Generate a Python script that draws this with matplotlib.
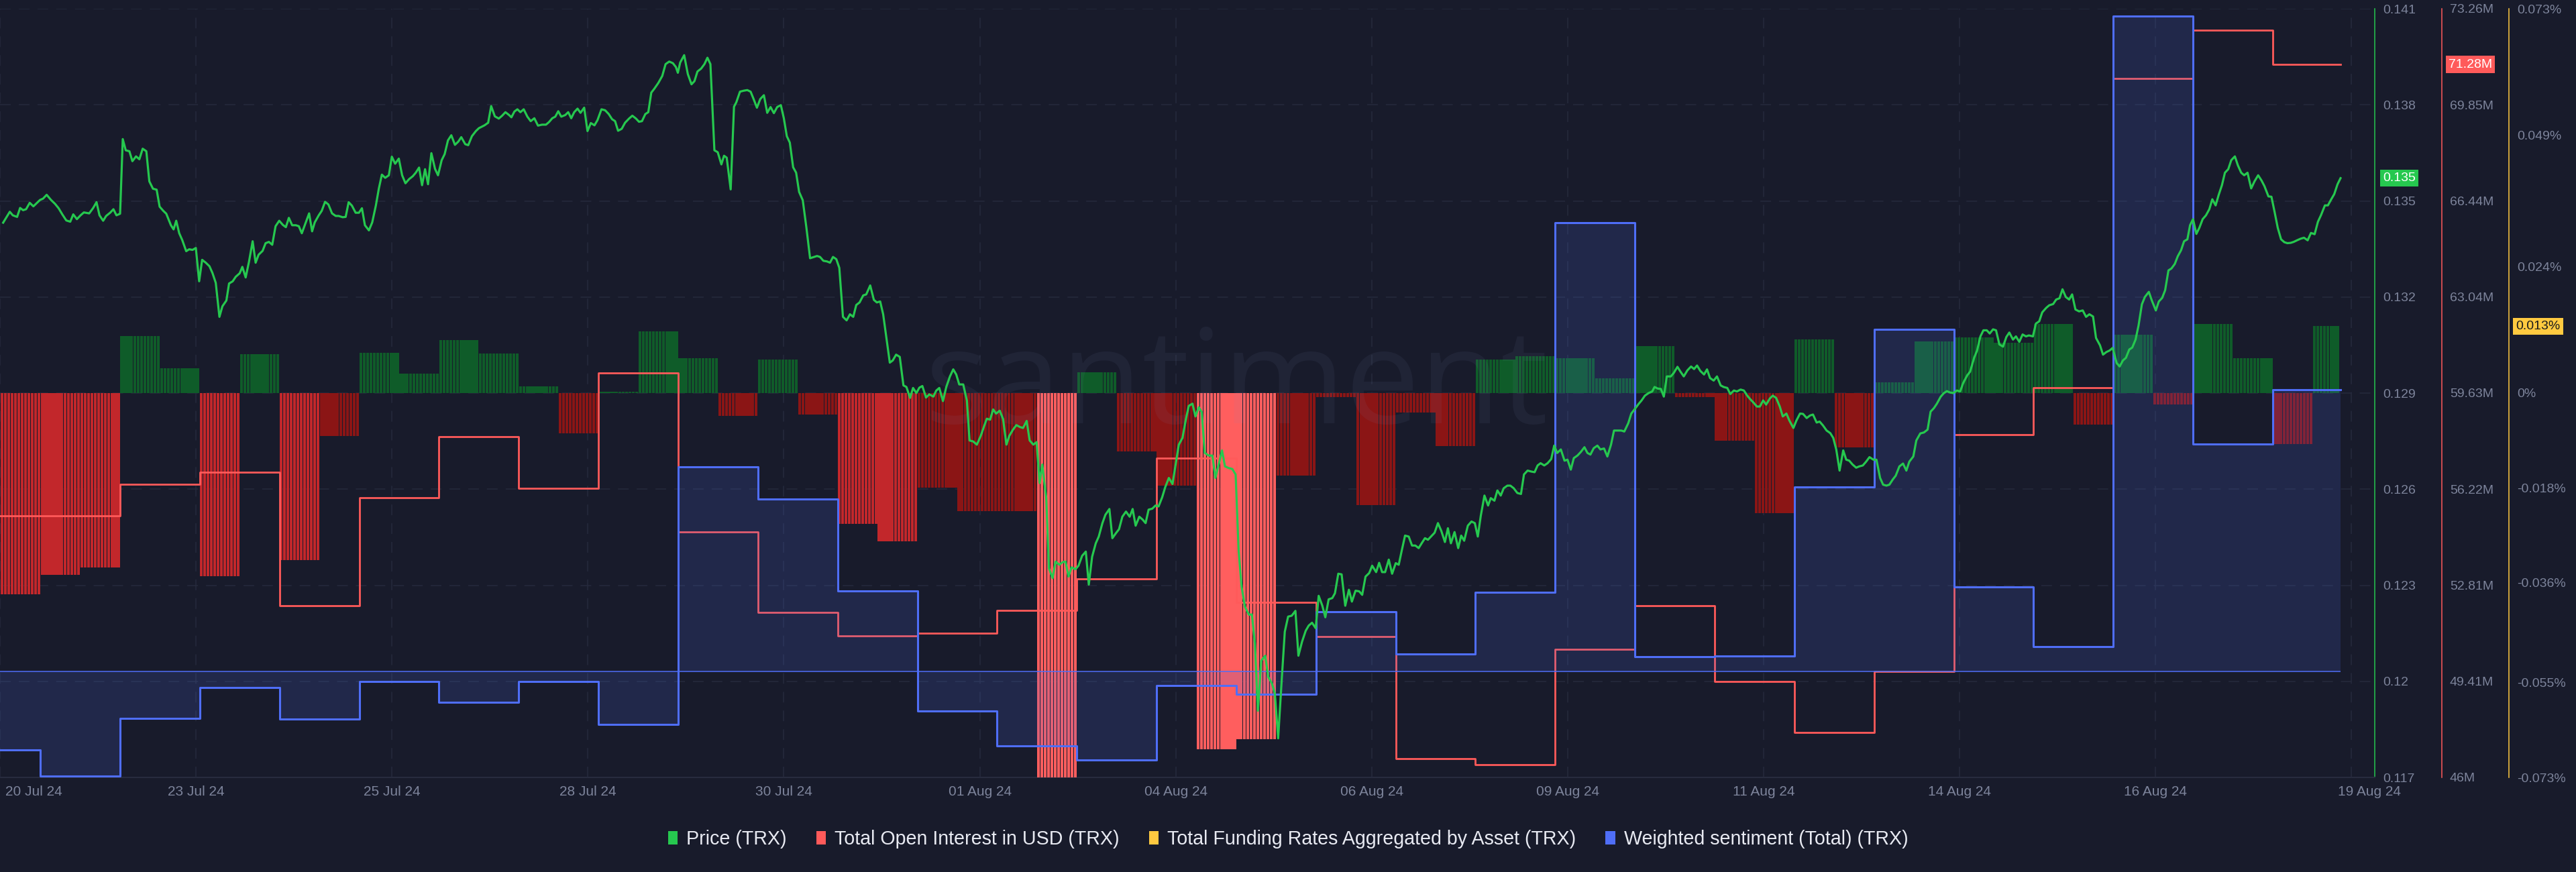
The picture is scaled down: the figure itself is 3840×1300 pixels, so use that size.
import matplotlib
matplotlib.use("Agg")
import matplotlib.pyplot as plt
import matplotlib.transforms as mtransforms
from matplotlib.patches import Patch
import numpy as np

plt.rcParams['font.family'] = ['Liberation Sans', 'DejaVu Sans']
plt.rcParams['lines.scale_dashes'] = False

# ---- data (x axis = hours from the first daily boundary) ----
# price, hourly-ish samples: (hour, price)
price_points = [
    (-11.2, .13432), (-9.2, .13466), (-8.3, .13455), (-7.0, .13450), (-6.1, .13478), (-5.2, .13471),
    (-4.3, .13474), (-3.2, .13494), (-2.1, .13483), (-1.0, .13494), (-0.1, .13503), (0.8, .13507),
    (1.9, .13519), (3.2, .13503), (4.4, .13491), (5.5, .13477), (6.6, .13458), (7.8, .13439),
    (9.0, .13435), (9.9, .13458), (11.0, .13443), (12.1, .13455), (13.1, .13464), (14.7, .13461),
    (15.9, .13478), (16.9, .13496), (17.8, .13455), (18.9, .13438), (19.8, .13453), (21.0, .13463),
    (22.0, .13474), (22.9, .13455), (24.0, .13460), (24.8, .13693), (25.7, .13658), (26.8, .13655),
    (27.7, .13624), (28.8, .13639), (29.8, .13630), (30.8, .13663), (31.9, .13655), (32.8, .13561),
    (33.9, .13538), (35.0, .13535), (35.9, .13482), (37.0, .13469), (37.9, .13460), (39.3, .13424),
    (40.1, .13411), (40.9, .13438), (41.8, .13399), (42.7, .13378), (43.9, .13343), (44.8, .13349),
    (45.8, .13347), (46.8, .13353), (47.8, .13249), (48.7, .13316), (49.8, .13307), (50.9, .13296),
    (51.8, .13275), (52.8, .13244), (53.9, .13138), (54.8, .13171), (56.0, .13189), (56.8, .13242),
    (57.9, .13249), (58.8, .13263), (60.0, .13274), (60.8, .13294), (61.8, .13261), (62.8, .13310),
    (63.9, .13374), (64.8, .13307), (65.7, .13332), (66.9, .13344), (67.8, .13368), (68.8, .13372),
    (69.8, .13363), (70.8, .13421), (71.9, .13438), (73.0, .13425), (73.9, .13418), (74.8, .13447),
    (75.8, .13424), (76.9, .13424), (77.8, .13421), (78.7, .13399), (79.8, .13430), (80.9, .13461),
    (81.8, .13405), (82.6, .13433), (83.8, .13455), (84.7, .13469), (85.7, .13497), (86.7, .13489),
    (87.8, .13461), (88.9, .13453), (89.8, .13453), (91.0, .13449), (91.9, .13450), (92.8, .13496),
    (93.8, .13485), (94.9, .13463), (95.9, .13463), (96.8, .13477), (97.7, .13424), (98.9, .13408),
    (99.9, .13433), (101.0, .13486), (101.9, .13539), (102.8, .13582), (103.8, .13572), (104.9, .13580),
    (105.8, .13638), (106.8, .13616), (107.9, .13632), (108.9, .13580), (109.9, .13555), (111.0, .13568),
    (112.1, .13577), (113.0, .13588), (114.0, .13604), (114.9, .13549), (115.8, .13599), (116.7, .13552),
    (117.7, .13649), (118.8, .13600), (119.7, .13580), (120.8, .13627), (121.7, .13646), (122.7, .13689),
    (123.7, .13705), (124.8, .13675), (125.8, .13685), (126.7, .13699), (127.9, .13677), (128.8, .13674),
    (129.9, .13702), (131.1, .13718), (132.0, .13727),
    (133.7, .13736), (134.8, .13744), (135.7, .13796), (136.8, .13764), (138.0, .13757), (139.0, .13766),
    (140.0, .13777), (141.1, .13768), (141.8, .13761), (142.7, .13779), (143.6, .13786), (144.5, .13777),
    (145.5, .13786), (146.6, .13763), (147.6, .13749), (148.7, .13758), (149.8, .13735), (151.0, .13738),
    (152.2, .13738), (153.1, .13746), (154.1, .13758), (155.0, .13763), (155.9, .13780), (156.8, .13763),
    (158.0, .13768), (158.9, .13777), (159.8, .13758), (160.7, .13777), (161.7, .13788), (162.6, .13775),
    (163.7, .13791), (164.7, .13718), (165.7, .13743), (166.8, .13736), (167.7, .13752), (168.9, .13786),
    (170.0, .13783), (171.1, .13771), (172.1, .13755), (173.0, .13749), (173.9, .13719), (175.0, .13725),
    (176.0, .13744), (177.2, .13757), (178.2, .13766), (179.3, .13757), (180.2, .13747), (181.1, .13749),
    (182.1, .13771), (183.0, .13777), (183.9, .13838), (184.8, .13850), (186.0, .13868), (187.2, .13890),
    (188.2, .13927), (189.3, .13935), (190.4, .13930), (191.3, .13918), (191.9, .13900), (192.6, .13932),
    (193.8, .13955), (194.9, .13896), (196.0, .13864), (196.9, .13874), (197.8, .13904), (198.9, .13913),
    (199.9, .13927), (200.8, .13947), (201.7, .13927), (202.9, .13658), (203.9, .13652), (205.0, .13614),
    (205.8, .13641), (206.6, .13635), (207.8, .13536), (208.8, .13794), (209.5, .13808), (210.6, .13841),
    (211.7, .13844), (212.8, .13846), (213.8, .13841), (214.7, .13818), (215.7, .13791), (216.7, .13818),
    (217.8, .13830), (218.8, .13775), (219.8, .13793), (220.8, .13774), (221.8, .13793), (222.9, .13799),
    (223.8, .13758), (224.7, .13702), (225.6, .13682), (226.6, .13605), (227.5, .13588), (228.4, .13528),
    (229.5, .13502), (230.6, .13416), (231.7, .13321), (232.9, .13325), (233.8, .13328), (234.7, .13325),
    (235.7, .13313), (236.8, .13311), (237.7, .13307), (238.6, .13325), (239.6, .13318), (240.5, .13291),
    (241.6, .13138), (242.7, .13127), (243.7, .13146), (244.7, .13138), (245.6, .13175), (246.6, .13183),
    (247.7, .13205), (248.6, .13208), (249.8, .13236), (250.9, .13191), (251.8, .13183), (252.8, .13186),
    (253.7, .13146), (254.7, .13070), (255.7, .12995), (256.6, .13002), (257.6, .13020), (258.7, .13013),
    (259.8, .12924), (260.7, .12919), (261.8, .12885), (262.7, .12916), (263.7, .12900), (264.6, .12917),
    (265.5, .12922), (266.6, .12886), (267.6, .12896), (268.8, .12889), (269.7, .12908), (270.6, .12916),
    (271.7, .12875), (272.7, .12919),
    (273.8, .12952), (274.8, .12974), (275.7, .12958), (276.6, .12927), (277.8, .12927), (278.9, .12877),
    (279.7, .12752), (280.8, .12749), (281.9, .12739), (283.1, .12767), (284.0, .12794), (284.9, .12820),
    (285.9, .12817), (286.8, .12849), (287.7, .12836), (288.8, .12845), (289.8, .12819), (290.8, .12739),
    (291.7, .12767), (292.8, .12786), (293.8, .12800), (294.9, .12794), (295.8, .12791), (296.9, .12813),
    (297.8, .12752), (298.9, .12739), (299.9, .12747), (300.8, .12619), (301.6, .12677), (302.8, .12572),
    (303.6, .12353), (304.7, .12322), (305.6, .12374), (306.7, .12364), (307.7, .12372), (308.6, .12374),
    (309.5, .12327), (310.4, .12356), (311.6, .12350), (312.5, .12361), (313.6, .12392), (314.7, .12405),
    (315.6, .12302), (316.6, .12389), (317.7, .12431), (318.6, .12452), (319.7, .12494), (320.6, .12520),
    (321.8, .12538), (322.7, .12447), (323.8, .12463), (324.7, .12475), (325.7, .12514), (326.8, .12530),
    (327.9, .12514), (328.8, .12538), (329.7, .12486), (330.8, .12514), (331.8, .12505), (332.7, .12494),
    (333.6, .12536), (334.7, .12539), (335.7, .12549), (336.6, .12546), (337.7, .12575), (338.6, .12606),
    (339.7, .12635), (340.8, .12616), (341.8, .12681), (342.7, .12739), (343.8, .12760), (344.8, .12817),
    (345.7, .12860), (346.8, .12867), (347.7, .12827), (348.7, .12856), (349.6, .12841), (350.5, .12713),
    (351.7, .12705), (352.8, .12705), (353.7, .12635), (354.8, .12681), (355.7, .12721), (356.6, .12671),
    (357.7, .12666), (358.8, .12663), (359.8, .12646), (360.7, .12408), (361.6, .12295), (362.6, .12233),
    (363.8, .12208), (364.7, .12209), (365.6, .12119), (366.5, .11908), (367.5, .12064), (368.7, .12080),
    (369.6, .12014), (370.7, .11994), (371.6, .11963), (372.6, .11822), (373.7, .12009), (374.6, .12155),
    (375.6, .12202), (376.7, .12205), (377.8, .12220), (378.7, .12080), (379.8, .12124), (380.9, .12158),
    (381.8, .12174), (382.8, .12183), (383.9, .12166), (384.8, .12267), (385.9, .12236), (386.8, .12200),
    (387.8, .12256), (388.9, .12260), (389.7, .12275), (390.7, .12336), (391.7, .12334), (392.8, .12236),
    (393.9, .12286), (394.8, .12249), (395.9, .12283), (397.0, .12281), (397.9, .12270), (398.9, .12327),
    (400.0, .12338), (400.9, .12361), (402.1, .12341), (403.0, .12370), (403.9, .12341), (404.8, .12341),
    (405.9, .12380), (406.9, .12336), (408.0, .12369), (408.9, .12364), (409.8, .12408), (410.8, .12455),
    (411.9, .12452), (412.9, .12424), (413.9, .12424),
    (414.9, .12416), (415.8, .12431), (416.8, .12447), (417.7, .12442), (418.6, .12452), (419.7, .12464),
    (420.7, .12494), (421.7, .12470), (422.8, .12435), (423.7, .12478), (424.6, .12431), (425.7, .12466),
    (426.8, .12416), (427.7, .12455), (428.6, .12439), (429.7, .12486), (430.8, .12499), (431.8, .12494),
    (432.7, .12452), (433.6, .12517), (434.7, .12580), (435.8, .12549), (436.6, .12572), (437.7, .12564),
    (438.6, .12596), (439.6, .12580), (440.5, .12603), (441.6, .12611), (442.5, .12611), (443.5, .12603),
    (444.6, .12588), (445.7, .12585), (446.6, .12646), (447.7, .12658), (448.8, .12655), (449.8, .12653),
    (450.7, .12674), (451.6, .12681), (452.7, .12674), (453.7, .12681), (454.8, .12694), (455.7, .12736),
    (456.6, .12713), (457.7, .12724), (458.8, .12689), (459.7, .12692), (460.7, .12661), (461.6, .12697),
    (462.7, .12705), (463.7, .12716), (464.8, .12731), (465.7, .12713), (466.6, .12708), (467.6, .12728),
    (468.7, .12736), (469.6, .12724), (470.7, .12727), (471.7, .12702), (472.8, .12739), (473.7, .12783),
    (474.8, .12783), (475.9, .12783), (476.8, .12780), (478.0, .12806), (478.9, .12836), (480.1, .12852),
    (481.1, .12866), (482.0, .12877), (483.0, .12892), (484.1, .12900), (485.2, .12905), (485.9, .12919),
    (486.9, .12914), (487.8, .12913), (488.7, .12889), (489.6, .12952), (490.8, .12952), (491.7, .12963),
    (492.8, .12982), (493.7, .12967), (494.7, .12952), (495.8, .12971), (496.9, .12983), (497.8, .12975),
    (498.7, .12986), (499.7, .12969), (500.8, .12958), (501.7, .12974), (502.6, .12947), (503.7, .12939),
    (504.7, .12952), (505.8, .12924), (506.7, .12919), (507.8, .12916), (508.7, .12897), (509.8, .12908),
    (510.7, .12905), (511.8, .12911), (512.8, .12908), (513.8, .12892), (514.7, .12881), (515.8, .12869),
    (516.7, .12858), (517.6, .12858), (518.6, .12877), (519.5, .12864), (520.6, .12883), (521.5, .12892),
    (522.5, .12885), (523.6, .12858), (524.5, .12827), (525.6, .12836), (526.5, .12814), (527.7, .12791),
    (528.6, .12814), (529.7, .12836), (530.6, .12835), (531.7, .12822), (532.7, .12830), (533.6, .12833),
    (534.7, .12808), (535.6, .12811), (536.6, .12799), (537.7, .12783), (538.8, .12775), (539.7, .12760),
    (540.6, .12724), (541.6, .12658), (542.7, .12721), (543.6, .12692), (544.5, .12689), (545.5, .12677),
    (546.6, .12667), (547.5, .12671), (548.6, .12674), (549.6, .12686), (550.6, .12700), (551.8, .12692),
    (552.7, .12692), (553.8, .12635), (554.7, .12614), (555.7, .12611),
    (556.6, .12614), (557.6, .12630), (558.5, .12642), (559.6, .12671), (560.7, .12680), (561.7, .12658),
    (562.6, .12686), (563.8, .12702), (564.7, .12752), (565.9, .12774), (567.0, .12777), (568.1, .12786),
    (569.0, .12842), (570.0, .12853), (570.9, .12867), (572.0, .12888), (572.9, .12899), (573.9, .12906),
    (574.8, .12902), (575.8, .12900), (576.9, .12908), (577.9, .12905), (578.8, .12931), (580.0, .12955),
    (580.9, .12967), (582.1, .13010), (583.0, .13033), (584.0, .13077), (584.9, .13096), (585.9, .13096),
    (586.8, .13086), (587.8, .13099), (588.7, .13096), (589.7, .13052), (590.8, .13045), (591.8, .13075),
    (592.7, .13089), (593.8, .13067), (594.7, .13077), (595.7, .13060), (596.7, .13083), (597.7, .13077),
    (598.6, .13080), (599.8, .13077), (600.7, .13117), (601.7, .13124), (602.6, .13152), (603.8, .13166),
    (604.7, .13174), (605.9, .13178), (606.8, .13192), (607.8, .13196), (608.7, .13224), (609.7, .13200),
    (610.7, .13192), (611.6, .13208), (612.6, .13161), (613.7, .13155), (614.8, .13158), (615.8, .13138),
    (616.8, .13146), (617.9, .13139), (618.8, .13072), (620.0, .13049), (620.9, .13020), (621.9, .13028),
    (622.9, .13033), (623.8, .13041), (625.0, .12994), (625.9, .12983), (626.9, .13002), (627.8, .13010),
    (628.8, .13036), (629.7, .13042), (630.7, .13067), (631.6, .13111), (632.6, .13177), (633.5, .13200),
    (634.7, .13216), (635.6, .13189), (636.8, .13158), (637.7, .13186), (638.7, .13197), (639.6, .13221),
    (640.6, .13283), (641.5, .13289), (642.5, .13303), (643.4, .13327), (644.4, .13346), (645.3, .13374),
    (646.3, .13380), (647.1, .13424), (648.0, .13443), (649.0, .13397), (649.9, .13416), (650.9, .13443),
    (651.9, .13455), (652.9, .13474), (653.8, .13505), (654.8, .13486), (655.7, .13518), (656.7, .13549),
    (657.6, .13588), (658.6, .13599), (659.5, .13627), (660.6, .13639), (661.5, .13611), (662.5, .13588),
    (663.4, .13580), (664.4, .13588), (665.5, .13539), (666.5, .13561), (667.6, .13580), (668.6, .13564),
    (669.5, .13546), (670.7, .13514), (671.6, .13513), (672.6, .13463), (673.5, .13416), (674.5, .13380),
    (675.5, .13371), (676.4, .13368), (677.4, .13369), (678.3, .13372), (679.3, .13377), (680.4, .13382),
    (681.4, .13385), (682.5, .13377), (683.5, .13400), (684.6, .13396), (685.6, .13435), (686.5, .13455),
    (687.7, .13486), (688.6, .13486), (689.6, .13505), (690.5, .13521), (691.5, .13552), (692.4, .13571),
]

# daily series, day -1 .. 28
days = np.arange(-1, 29)
open_interest_m = [55.28, 55.28, 56.39, 56.82, 52.09, 55.92, 58.08, 56.25, 60.34, 54.71,
                   51.85, 51.02, 51.11, 51.92, 53.04, 57.32, 52.21, 51.00, 46.67, 46.45,
                   50.54, 52.09, 49.40, 47.59, 49.76, 58.16, 59.82, 70.79, 72.50, 71.28]
weighted_sentiment = [-1.17, -1.56, -0.70, -0.24, -0.71, -0.15, -0.46, -0.15, -0.79, 3.05,
                      2.57, 1.20, -0.59, -1.11, -1.32, -0.21, -0.34, 0.89, 0.26, 1.18,
                      6.69, 0.22, 0.23, 2.75, 5.10, 1.26, 0.37, 9.77, 3.39, 4.20]

# funding rate (%) per 12h block, first block starts at hour -12
funding_start = -12
funding_rates = [-0.0382, -0.0345, -0.0331, 0.0108, 0.0047, -0.0348, 0.0074, -0.0317, -0.0082, 0.0076,
                 0.0037, 0.0101, 0.0075, 0.0013, -0.0076, 0.0003, 0.0117, 0.0066, -0.0043, 0.0064,
                 -0.0041, -0.0248, -0.0282, -0.0180, -0.0224, -0.0224, -0.0740, 0.0039, -0.0111, -0.0176,
                 -0.0676, -0.0657, -0.0157, -0.0008, -0.0213, -0.0037, -0.0101, 0.0064, 0.0070, 0.0066,
                 0.0028, 0.0089, -0.0008, -0.0090, -0.0228, 0.0102, -0.0103, 0.0020, 0.0098, 0.0106,
                 0.0096, 0.0131, -0.0060, 0.0111, -0.0022, 0.0131, 0.0066, -0.0097, 0.0127]

x_tick_hours = [-12.15, 46.84, 105.83, 164.82, 223.81, 282.80, 341.79, 400.78,
                459.77, 518.76, 577.75, 636.74, 695.73]
x_tick_labels = ['20 Jul 24', '23 Jul 24', '25 Jul 24', '28 Jul 24', '30 Jul 24', '01 Aug 24',
                 '04 Aug 24', '06 Aug 24', '09 Aug 24', '11 Aug 24', '14 Aug 24', '16 Aug 24',
                 '19 Aug 24']
price_ticks = [0.141, 0.138, 0.135, 0.132, 0.129, 0.126, 0.123, 0.12, 0.117]
oi_ticks = [73.26, 69.85, 66.44, 63.04, 59.63, 56.22, 52.81, 49.41, 46.0]
oi_tick_labels = ['73.26M', '69.85M', '66.44M', '63.04M', '59.63M', '56.22M', '52.81M', '49.41M', '46M']
funding_ticks = [0.073, 0.049, 0.024, 0, -0.018, -0.036, -0.055, -0.073]
funding_tick_labels = ['0.073%', '0.049%', '0.024%', '0%', '-0.018%', '-0.036%', '-0.055%', '-0.073%']

# ---- style ----
BG = '#181b2b'
GREEN = '#26c84f'
RED = '#ff5a5a'
YELLOW = '#ffc940'
BLUE = '#4f6ef7'
GRID = '#262a3d'
TICK = '#7d849b'
DASH = (0, (11.5, 8.6))

price_points = np.array(price_points)
ph, pv = price_points[:, 0], price_points[:, 1]
end_hour = ph[-1]

fig = plt.figure(figsize=(38.4, 13), dpi=100, facecolor=BG)
ax = fig.add_axes([0, 1 - 1159 / 1300, 3540 / 3840, 1146 / 1300])
ax.set_facecolor(BG)
ax_f = ax.twinx()
ax_oi = ax.twinx()
ax_s = ax.twinx()
ax_p = ax.twinx()

ax.set_xlim(-12.15, 702.7)
ax.set_ylim(0.117, 0.141)
ax_p.set_ylim(0.117, 0.141)
ax_oi.set_ylim(46.0, 73.26)
ax_f.set_ylim(-0.073, 0.073)
ax_s.set_ylim(-1.58, 9.88)

for a in (ax, ax_f, ax_oi, ax_s, ax_p):
    for side in ('top', 'left', 'right', 'bottom'):
        a.spines[side].set_visible(False)

# main axis: price ticks on the right, grid
ax.yaxis.tick_right()
ax.set_yticks(price_ticks, labels=[f'{v:g}' for v in price_ticks])
ax.spines['right'].set_visible(True)
ax.spines['right'].set_color(GREEN)
ax.spines['right'].set_linewidth(1.1)
ax.spines['bottom'].set_visible(True)
ax.spines['bottom'].set_color('#272b3e')
ax.spines['bottom'].set_linewidth(1.5)
ax.set_xticks(x_tick_hours, labels=x_tick_labels)
ax.tick_params(axis='x', length=0, pad=9, labelsize=15, labelcolor=TICK)
ax.tick_params(axis='y', length=0, pad=8.6, labelsize=14, labelcolor=TICK)
xlabels = ax.get_xticklabels()
xlabels[0].set_ha('left')
xlabels[0].set_transform(xlabels[0].get_transform()
                         + mtransforms.ScaledTranslation(0.08, 0, fig.dpi_scale_trans))
xlabels[-1].set_transform(xlabels[-1].get_transform()
                          + mtransforms.ScaledTranslation(0.27, 0, fig.dpi_scale_trans))
ax.grid(True, color=GRID, linestyle=DASH, linewidth=1.1)
ax.set_axisbelow(True)

ax_oi.set_yticks(oi_ticks, labels=oi_tick_labels)
ax_oi.spines['right'].set_visible(True)
ax_oi.spines['right'].set_position(('axes', 1 + 100 / 3540))
ax_oi.spines['right'].set_color(RED)
ax_oi.spines['right'].set_linewidth(1.1)
ax_oi.tick_params(axis='y', length=0, pad=8.6, labelsize=14, labelcolor=TICK)

ax_f.set_yticks(funding_ticks, labels=funding_tick_labels)
ax_f.spines['right'].set_visible(True)
ax_f.spines['right'].set_position(('axes', 1 + 200 / 3540))
ax_f.spines['right'].set_color(YELLOW)
ax_f.spines['right'].set_linewidth(1.1)
ax_f.tick_params(axis='y', length=0, pad=8.6, labelsize=14, labelcolor=TICK)

ax_s.yaxis.set_visible(False)
ax_p.yaxis.set_visible(False)

# funding bars: one thin bar per hour inside each 12h block
bar_x, bar_v, bar_c = [], [], []
for k, v in enumerate(funding_rates):
    if v > 0:
        c = '#0f5c29'
    elif v > -0.0235:
        c = '#8b1515'
    elif v > -0.05:
        c = '#c2272b'
    else:
        c = '#ff5e5e'
    for j in range(12):
        h = funding_start + 12 * k + j + 0.5
        if h < end_hour:
            bar_x.append(h)
            bar_v.append(v)
            bar_c.append(c)
ax_f.bar(bar_x, bar_v, width=0.85, color=bar_c, linewidth=0, zorder=2)

# watermark
ax_f.text(0.48, 1 - 631 / 1300, 'santiment', transform=fig.transFigure, ha='center',
          va='baseline', fontsize=142, family='Open Sans', color='#8090c0', alpha=0.08, zorder=3)

# daily step series
sx = np.append(days * 24.0, end_hour)
oi_y = np.append(open_interest_m, open_interest_m[-1])
ax_oi.step(sx, oi_y, where='post', color=RED, linewidth=2.0)

s_y = np.append(weighted_sentiment, weighted_sentiment[-1])
ax_s.fill_between(sx, s_y, 0, step='post', color='#506ee6', alpha=0.17, linewidth=0)
ax_s.step(sx, s_y, where='post', color=BLUE, linewidth=2.2)
ax_s.hlines(0, sx[0], end_hour, color=BLUE, linewidth=1.1)

# price
ax_p.plot(ph, pv, color=GREEN, linewidth=2.3, solid_joinstyle='round')

# last-value boxes on the axes
tp = mtransforms.blended_transform_factory(ax_p.transAxes, ax_p.transData)
ax_p.text(1 + 12 / 3540, pv[-1], f'{np.floor(pv[-1] * 1000) / 1000:.3f}', transform=tp,
          ha='left', va='center', fontsize=14, color='white',
          bbox=dict(boxstyle='square,pad=0.22', fc=GREEN, ec='none'))
to = mtransforms.blended_transform_factory(ax_oi.transAxes, ax_oi.transData)
ax_oi.text(1 + 110 / 3540, open_interest_m[-1], f'{open_interest_m[-1]:.2f}M', transform=to,
           ha='left', va='center', fontsize=14, color='white',
           bbox=dict(boxstyle='square,pad=0.22', fc=RED, ec='none'))
tf = mtransforms.blended_transform_factory(ax_f.transAxes, ax_f.transData)
ax_f.text(1 + 210 / 3540, funding_rates[-1], f'{funding_rates[-1]:.3f}%', transform=tf,
          ha='left', va='center', fontsize=14, color='#1b1b1b',
          bbox=dict(boxstyle='square,pad=0.22', fc=YELLOW, ec='none'))

# legend
handles = [Patch(facecolor=GREEN, label='Price (TRX)'),
           Patch(facecolor=RED, label='Total Open Interest in USD (TRX)'),
           Patch(facecolor=YELLOW, label='Total Funding Rates Aggregated by Asset (TRX)'),
           Patch(facecolor=BLUE, label='Weighted sentiment (Total) (TRX)')]
fig.legend(handles=handles, loc='center', bbox_to_anchor=(0.5, 1 - 1251 / 1300), ncol=4,
           frameon=False, fontsize=20.6, labelcolor='#e8eaf2', handlelength=0.5,
           handleheight=0.7, handletextpad=0.45, columnspacing=1.55)

fig.savefig('out.png', dpi=100, facecolor=BG)
